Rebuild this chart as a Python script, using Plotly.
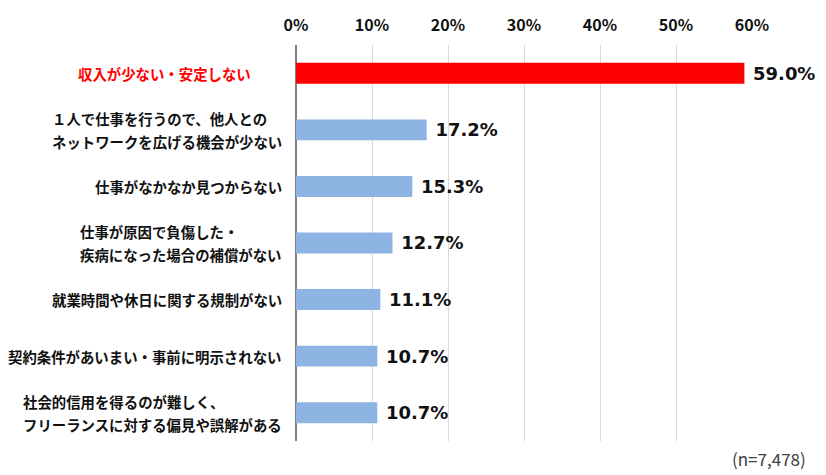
import plotly.graph_objects as go

categories = [
    "収入が少ない・安定しない",
    "１人で仕事を行うので、他人との\nネットワークを広げる機会が少ない",
    "仕事がなかなか見つからない",
    "仕事が原因で負傷した・\n疾病になった場合の補償がない",
    "就業時間や休日に関する規制がない",
    "契約条件があいまい・事前に明示されない",
    "社会的信用を得るのが難しく、\nフリーランスに対する偏見や誤解がある",
]
values = [59.0, 17.2, 15.3, 12.7, 11.1, 10.7, 10.7]
tick_vals = [0, 10, 20, 30, 40, 50, 60]
tick_text = ["0%", "10%", "20%", "30%", "40%", "50%", "60%"]
note = "(n=7,478)"

highlight_color = "#FF0000"
base_color = "#8EB4E3"
colors = [highlight_color] + [base_color] * (len(values) - 1)

fig = go.Figure()
fig.add_trace(go.Bar(
    y=list(range(len(categories))),
    x=values,
    orientation="h",
    marker=dict(color=colors, line=dict(width=0)),
    width=0.37,
    text=[" <b>%.1f%%</b>" % v for v in values],
    textposition="outside",
    textfont=dict(family="DejaVu Sans", size=18, color="#111111"),
    cliponaxis=False,
    hoverinfo="skip",
))

FS = 14.4
annotations = []
for i, lab in enumerate(categories):
    lines = lab.split("\n")
    maxw = max(len(l) for l in lines) * FS
    right_gap = 47 if i == 0 else 16
    col = highlight_color if i == 0 else "#111111"
    n = len(lines)
    for j, line in enumerate(lines):
        annotations.append(dict(
            x=0, xref="x", y=i, yref="y",
            text="<b>%s</b>" % line,
            showarrow=False,
            xanchor="left", yanchor="middle",
            xshift=-right_gap - maxw,
            yshift=-(j - (n - 1) / 2) * 23,
            font=dict(family="Noto Sans CJK JP", size=FS, color=col),
        ))

annotations.append(dict(
    x=1.123, xref="paper", y=0, yref="paper",
    text=note, showarrow=False, xanchor="right", yanchor="middle",
    yshift=-17,
    font=dict(family="Noto Sans CJK JP", size=17, color="#404040"),
))

fig.update_layout(
    width=826, height=475,
    margin=dict(l=296, r=74, t=42, b=34),
    paper_bgcolor="white", plot_bgcolor="white",
    showlegend=False,
    bargap=0.63,
    annotations=annotations,
    xaxis=dict(
        side="top", range=[0, 60],
        tickvals=tick_vals, ticktext=["<b>%s</b>" % t for t in tick_text],
        tickfont=dict(family="Noto Sans CJK JP", size=16, color="#111111"),
        showgrid=True, gridcolor="#d9d9d9", gridwidth=1,
        zeroline=True, zerolinecolor="#7f7f7f", zerolinewidth=1.5,
        showline=False, ticks="", ticklabelstandoff=10,
    ),
    yaxis=dict(
        range=[len(categories) - 0.5, -0.5],
        showticklabels=False, showgrid=False, zeroline=False, showline=False,
    ),
)

fig.write_html("out.html")
